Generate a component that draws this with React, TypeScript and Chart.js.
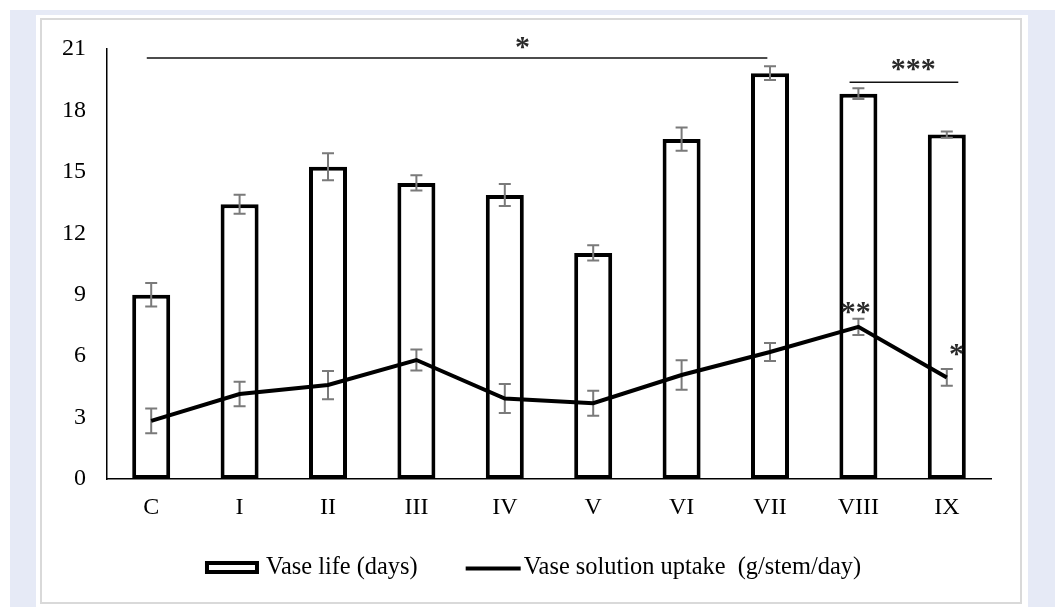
import React, { useEffect, useRef } from "react";
import { Chart, registerables } from "chart.js";

Chart.register(...registerables);

const categories = ["C", "I", "II", "III", "IV", "V", "VI", "VII", "VIII", "IX"];
const vaseLife = [9.0, 13.42, 15.25, 14.46, 13.87, 11.04, 16.6, 19.82, 18.82, 16.82];
const vaseLifeSE = [0.57, 0.46, 0.66, 0.37, 0.54, 0.37, 0.57, 0.34, 0.26, 0.15];
const uptake = [2.84, 4.15, 4.59, 5.81, 3.93, 3.7, 5.08, 6.2, 7.43, 4.96];
const uptakeSE = [0.6, 0.6, 0.69, 0.51, 0.71, 0.61, 0.72, 0.44, 0.4, 0.41];
const yTicks = [0, 3, 6, 9, 12, 15, 18, 21];
const seriesLabels = ["Vase life (days)", "Vase solution uptake  (g/stem/day)"];

// significance brackets (category index range, level in y units, label position)
const bracketFrom = [-0.05, 7.9];
const bracketTo = [6.97, 9.13];
const bracketLevel = [20.56, 19.38];
const bracketLabel = ["*", "***"];
const bracketLabelX = [4.2, 8.62];
const bracketLabelY = [21.3, 20.2];
// marks beside the uptake line
const markLabel = ["**", "*"];
const markX = [7.97, 9.11];
const markY = [8.35, 6.3];

const FONT = "'Liberation Serif', 'Times New Roman', serif";

function drawStars(ctx: CanvasRenderingContext2D, text: string, cx: number, cy: number) {
  ctx.save();
  ctx.font = `bold 30px ${FONT}`;
  ctx.fillStyle = "#2a2a2a";
  ctx.textAlign = "center";
  ctx.textBaseline = "alphabetic";
  const m = ctx.measureText("*");
  const off = (m.actualBoundingBoxAscent - m.actualBoundingBoxDescent) / 2;
  const n = text.length;
  const step = 15;
  for (let i = 0; i < n; i++) {
    const x = cx + (i - (n - 1) / 2) * step;
    ctx.fillText("*", x, cy + off);
  }
  ctx.restore();
}

function drawErrors(ctx: CanvasRenderingContext2D, xs: any, ys: any, vals: number[], errs: number[]) {
  ctx.save();
  ctx.strokeStyle = "#7a7a7a";
  ctx.lineWidth = 2;
  vals.forEach((v, i) => {
    const x = xs.getPixelForValue(i);
    const yT = ys.getPixelForValue(v + errs[i]);
    const yB = ys.getPixelForValue(v - errs[i]);
    ctx.beginPath();
    ctx.moveTo(x, yT);
    ctx.lineTo(x, yB);
    ctx.moveTo(x - 6, yT);
    ctx.lineTo(x + 6, yT);
    ctx.moveTo(x - 6, yB);
    ctx.lineTo(x + 6, yB);
    ctx.stroke();
  });
  ctx.restore();
}

const overlay = {
  id: "overlay",
  afterDatasetDraw(chart: any, args: any) {
    if (args.index !== 0) return;
    const ctx = chart.ctx;
    const xs = chart.scales.x;
    const ys = chart.scales.y;
    drawErrors(ctx, xs, ys, vaseLife, vaseLifeSE);
    drawErrors(ctx, xs, ys, uptake, uptakeSE);
  },
  afterDraw(chart: any) {
    const ctx: CanvasRenderingContext2D = chart.ctx;
    const xs = chart.scales.x;
    const ys = chart.scales.y;
    // brackets
    ctx.save();
    ctx.strokeStyle = "#111";
    ctx.lineWidth = 1.5;
    bracketFrom.forEach((f, i) => {
      const y = ys.getPixelForValue(bracketLevel[i]);
      ctx.beginPath();
      ctx.moveTo(xs.getPixelForValue(f), y);
      ctx.lineTo(xs.getPixelForValue(bracketTo[i]), y);
      ctx.stroke();
      drawStars(ctx, bracketLabel[i], xs.getPixelForValue(bracketLabelX[i]), ys.getPixelForValue(bracketLabelY[i]));
    });
    markLabel.forEach((t, i) => {
      drawStars(ctx, t, xs.getPixelForValue(markX[i]), ys.getPixelForValue(markY[i]));
    });
    ctx.restore();

    // legend
    ctx.save();
    ctx.font = `24.4px ${FONT}`;
    ctx.fillStyle = "#000";
    ctx.textBaseline = "alphabetic";
    ctx.textAlign = "left";
    const w1 = ctx.measureText(seriesLabels[0]).width;
    const w2 = ctx.measureText(seriesLabels[1]).width;
    const boxW = 54, boxH = 13, gap1 = 7, itemGap = 48, lineW = 55, gap2 = 3;
    const total = boxW + gap1 + w1 + itemGap + lineW + gap2 + w2;
    let x = chart.width / 2 + 2 - total / 2;
    const boxTop = 541;
    const baseline = 554;
    const midY = boxTop + boxH / 2;
    ctx.fillStyle = "#fff";
    ctx.fillRect(x, boxTop, boxW, boxH);
    ctx.strokeStyle = "#000";
    ctx.lineWidth = 4;
    ctx.strokeRect(x + 2, boxTop + 2, boxW - 4, boxH - 4);
    x += boxW + gap1;
    ctx.fillStyle = "#000";
    ctx.fillText(seriesLabels[0], x, baseline);
    x += w1 + itemGap;
    ctx.beginPath();
    ctx.moveTo(x, midY + 1);
    ctx.lineTo(x + lineW, midY + 1);
    ctx.stroke();
    x += lineW + gap2;
    ctx.fillText(seriesLabels[1], x, baseline);
    ctx.restore();
  },
};

export default function App() {
  const ref = useRef<HTMLCanvasElement>(null);
  useEffect(() => {
    document.body.style.margin = "0";
    const chart = new Chart(ref.current as HTMLCanvasElement, {
      type: "bar",
      data: {
        labels: categories,
        datasets: [
          {
            type: "bar",
            label: seriesLabels[0],
            data: vaseLife,
            backgroundColor: "#ffffff",
            borderColor: "#000000",
            borderWidth: 4,
            borderSkipped: false,
            barPercentage: 0.43,
            categoryPercentage: 1,
            order: 1,
          },
          {
            type: "line",
            label: seriesLabels[1],
            data: uptake,
            borderColor: "#000000",
            borderWidth: 4,
            pointRadius: 0,
            tension: 0,
            fill: false,
            order: 0,
          } as any,
        ],
      },
      options: {
        animation: false,
        responsive: false,
        maintainAspectRatio: false,
        devicePixelRatio: 1,
        layout: { padding: { left: 0, right: 29, top: 29, bottom: 0 } },
        plugins: {
          legend: { display: false },
          tooltip: { enabled: false },
        },
        scales: {
          x: {
            grid: { display: false, drawTicks: false },
            border: { display: true, color: "#000", width: 1.5 },
            ticks: { color: "#000", font: { family: FONT, size: 24 }, padding: 14 },
            afterFit: (s: any) => {
              s.height = 123;
            },
          },
          y: {
            min: 0,
            max: 21,
            grid: { display: false, drawTicks: false },
            border: { display: true, color: "#000", width: 1.5 },
            ticks: { color: "#000", font: { family: FONT, size: 24 }, padding: 21 },
            afterBuildTicks: (s: any) => {
              s.ticks = yTicks.map((v) => ({ value: v }));
            },
            afterFit: (s: any) => {
              s.width = 65;
              s.paddingTop = 0;
              s.paddingBottom = 0;
            },
          },
        },
      },
      plugins: [overlay],
    });
    return () => chart.destroy();
  }, []);

  return (
    <div style={{ position: "relative", width: 1058, height: 607, background: "#fff", overflow: "hidden" }}>
      <div style={{ position: "absolute", left: 10, top: 10, width: 1045, height: 597, background: "#e6eaf6" }} />
      <div style={{ position: "absolute", left: 36, top: 15, width: 992, height: 592, background: "#fff" }} />
      <div
        style={{
          position: "absolute",
          left: 40,
          top: 18,
          width: 982,
          height: 586,
          border: "2px solid #d9d9d9",
          boxSizing: "border-box",
        }}
      />
      <div style={{ position: "absolute", left: 42, top: 20, width: 978, height: 582 }}>
        <canvas ref={ref} width={978} height={582} style={{ width: 978, height: 582, display: "block" }} />
      </div>
    </div>
  );
}
